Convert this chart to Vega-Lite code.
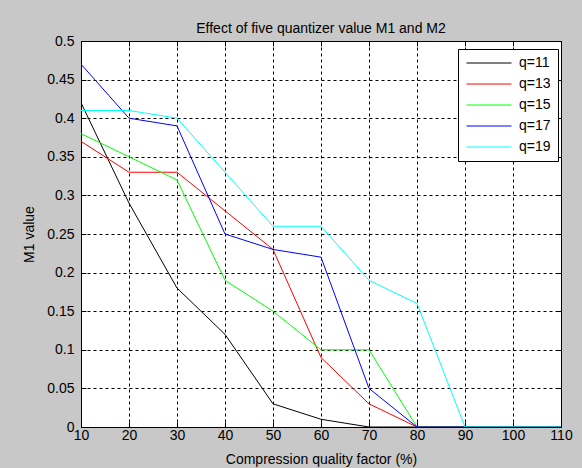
{
  "$schema": "https://vega.github.io/schema/vega-lite/v6.json",
  "width": 480,
  "height": 386,
  "autosize": {"type": "none"},
  "padding": {"left": 81, "top": 41, "right": 21, "bottom": 41},
  "background": "#c8c8c8",
  "title": {"text": "Effect of five quantizer value M1 and M2", "fontSize": 14, "font": "Liberation Sans", "fontWeight": "normal", "color": "#000000", "offset": -2, "anchor": "middle"},
  "data": {"values": [
    {"x": 10, "q": "q=11", "m1": 0.42}, {"x": 20, "q": "q=11", "m1": 0.29}, {"x": 30, "q": "q=11", "m1": 0.18}, {"x": 40, "q": "q=11", "m1": 0.12}, {"x": 50, "q": "q=11", "m1": 0.03}, {"x": 60, "q": "q=11", "m1": 0.01}, {"x": 70, "q": "q=11", "m1": 0}, {"x": 80, "q": "q=11", "m1": 0}, {"x": 90, "q": "q=11", "m1": 0}, {"x": 100, "q": "q=11", "m1": 0}, {"x": 110, "q": "q=11", "m1": 0},
    {"x": 10, "q": "q=13", "m1": 0.37}, {"x": 20, "q": "q=13", "m1": 0.33}, {"x": 30, "q": "q=13", "m1": 0.33}, {"x": 40, "q": "q=13", "m1": 0.28}, {"x": 50, "q": "q=13", "m1": 0.23}, {"x": 60, "q": "q=13", "m1": 0.09}, {"x": 70, "q": "q=13", "m1": 0.03}, {"x": 80, "q": "q=13", "m1": 0}, {"x": 90, "q": "q=13", "m1": 0}, {"x": 100, "q": "q=13", "m1": 0}, {"x": 110, "q": "q=13", "m1": 0},
    {"x": 10, "q": "q=15", "m1": 0.38}, {"x": 20, "q": "q=15", "m1": 0.35}, {"x": 30, "q": "q=15", "m1": 0.32}, {"x": 40, "q": "q=15", "m1": 0.19}, {"x": 50, "q": "q=15", "m1": 0.15}, {"x": 60, "q": "q=15", "m1": 0.10}, {"x": 70, "q": "q=15", "m1": 0.10}, {"x": 80, "q": "q=15", "m1": 0}, {"x": 90, "q": "q=15", "m1": 0}, {"x": 100, "q": "q=15", "m1": 0}, {"x": 110, "q": "q=15", "m1": 0},
    {"x": 10, "q": "q=17", "m1": 0.47}, {"x": 20, "q": "q=17", "m1": 0.40}, {"x": 30, "q": "q=17", "m1": 0.39}, {"x": 40, "q": "q=17", "m1": 0.25}, {"x": 50, "q": "q=17", "m1": 0.23}, {"x": 60, "q": "q=17", "m1": 0.22}, {"x": 70, "q": "q=17", "m1": 0.05}, {"x": 80, "q": "q=17", "m1": 0}, {"x": 90, "q": "q=17", "m1": 0}, {"x": 100, "q": "q=17", "m1": 0}, {"x": 110, "q": "q=17", "m1": 0},
    {"x": 10, "q": "q=19", "m1": 0.41}, {"x": 20, "q": "q=19", "m1": 0.41}, {"x": 30, "q": "q=19", "m1": 0.40}, {"x": 40, "q": "q=19", "m1": 0.33}, {"x": 50, "q": "q=19", "m1": 0.26}, {"x": 60, "q": "q=19", "m1": 0.26}, {"x": 70, "q": "q=19", "m1": 0.19}, {"x": 80, "q": "q=19", "m1": 0.16}, {"x": 90, "q": "q=19", "m1": 0}, {"x": 100, "q": "q=19", "m1": 0}, {"x": 110, "q": "q=19", "m1": 0}
  ]},
  "layer": [
    {
      "mark": {"type": "line", "strokeWidth": 1, "clip": true},
      "encoding": {
        "x": {"field": "x", "type": "quantitative", "scale": {"domain": [10, 110], "nice": false, "zero": false},
          "axis": {"orient": "bottom", "title": "Compression quality factor (%)", "values": [10, 20, 30, 40, 50, 60, 70, 80, 90, 100, 110], "grid": true, "tickSize": -5, "labelPadding": 6, "titlePadding": 10, "labelFlush": false, "labelOverlap": false}},
        "y": {"field": "m1", "type": "quantitative", "scale": {"domain": [0, 0.5], "nice": false},
          "axis": {"orient": "left", "title": "M1 value", "values": [0, 0.05, 0.1, 0.15, 0.2, 0.25, 0.3, 0.35, 0.4, 0.45, 0.5], "format": "~g", "grid": true, "tickSize": -5, "labelPadding": 12, "titlePadding": 10, "labelFlush": false, "labelOverlap": false}},
        "color": {"field": "q", "type": "nominal", "scale": {"domain": ["q=11", "q=13", "q=15", "q=17", "q=19"], "range": ["#000000", "#ff0000", "#00ff00", "#0000ff", "#00ffff"]},
          "legend": {"orient": "none", "legendX": 377, "legendY": 8, "title": null, "strokeColor": "#000000", "fillColor": "#ffffff", "padding": 7, "labelFontSize": 14, "labelFont": "Liberation Sans", "labelColor": "#000000", "symbolType": "stroke", "symbolSize": 2025, "symbolStrokeWidth": 1, "clipHeight": 14, "rowPadding": 7, "symbolOffset": 1, "cornerRadius": 0, "labelOffset": 7}}
      }
    },
    {
      "mark": {"type": "line", "opacity": 0},
      "encoding": {
        "x": {"field": "x", "type": "quantitative", "axis": {"orient": "top", "title": null, "labels": false, "grid": false, "domain": false, "tickSize": -5, "values": [10, 20, 30, 40, 50, 60, 70, 80, 90, 100, 110]}},
        "y": {"field": "m1", "type": "quantitative", "axis": {"orient": "right", "title": null, "labels": false, "grid": false, "domain": false, "tickSize": -5, "values": [0, 0.05, 0.1, 0.15, 0.2, 0.25, 0.3, 0.35, 0.4, 0.45, 0.5]}}
      }
    }
  ],
  "resolve": {"axis": {"x": "independent", "y": "independent"}},
  "config": {
    "view": {"fill": "#ffffff", "stroke": "#000000", "strokeWidth": 1},
    "axis": {"domainColor": "#000000", "tickColor": "#000000", "gridColor": "#000000", "gridDash": [3, 3], "gridOpacity": 1, "gridWidth": 1, "labelFont": "Liberation Sans", "labelFontSize": 14, "labelColor": "#000000", "titleFont": "Liberation Sans", "titleFontSize": 14, "titleFontWeight": "normal", "titleColor": "#000000"}
  }
}
